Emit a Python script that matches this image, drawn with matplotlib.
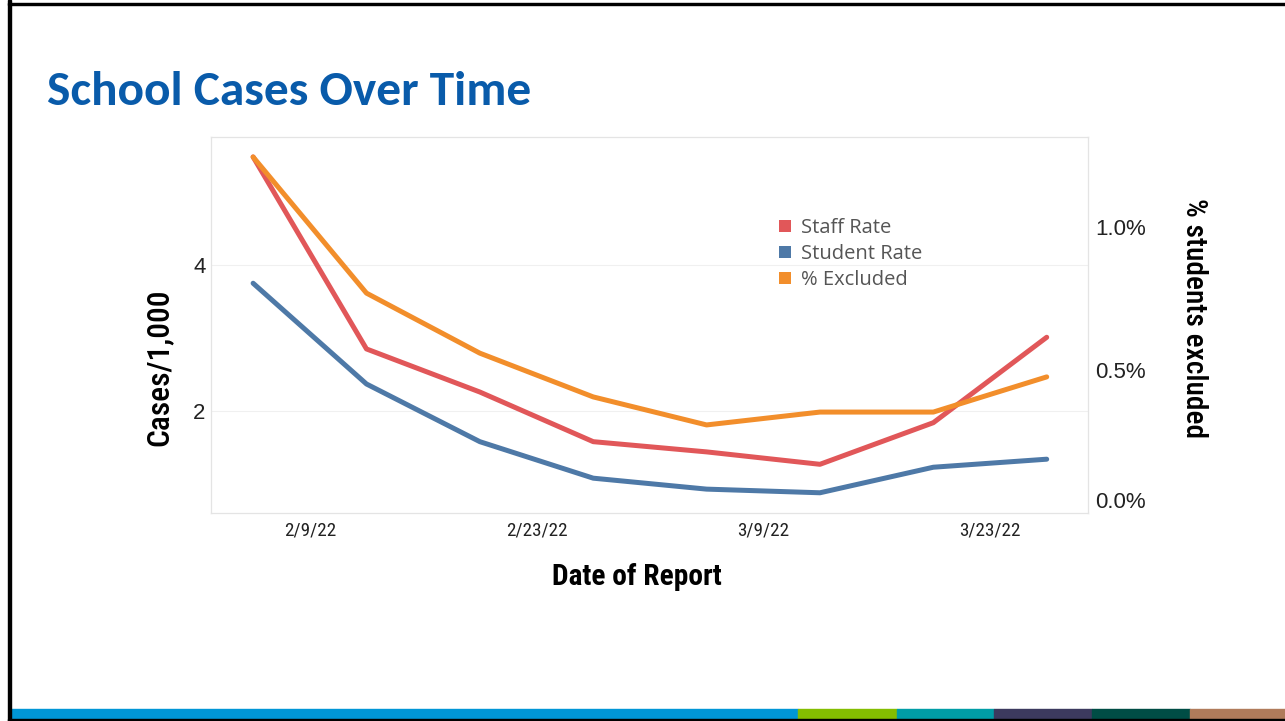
import matplotlib.pyplot as plt
import pandas as pd
from matplotlib import font_manager
from matplotlib.patches import Patch, Rectangle
from matplotlib.ticker import PercentFormatter

# Data
report_dates = pd.to_datetime(['2022-02-05 12:00', '2022-02-12 12:00', '2022-02-19 12:00',
                               '2022-02-26 12:00', '2022-03-05 12:00', '2022-03-12 12:00',
                               '2022-03-19 12:00', '2022-03-26 12:00'])
staff_rate = [5.48, 2.85, 2.26, 1.58, 1.44, 1.27, 1.84, 3.01]
student_rate = [3.75, 2.37, 1.58, 1.08, 0.93, 0.88, 1.23, 1.34]
pct_excluded = [1.245, 0.769, 0.559, 0.406, 0.308, 0.353, 0.353, 0.476]

tick_dates = pd.to_datetime(['2022-02-09', '2022-02-23', '2022-03-09', '2022-03-23'])
tick_labels = ['2/9/22', '2/23/22', '3/9/22', '3/23/22']
left_ticks = [2, 4]
right_ticks = [0.0, 0.5, 1.0]

series_names = ['Staff Rate', 'Student Rate', '% Excluded']
colors = ['#E15759', '#4E79A7', '#F28E2B']

W, H = 1285, 721


def pick(prefs):
    installed = {f.name for f in font_manager.fontManager.ttflist}
    for p in prefs:
        if p in installed:
            return p
    return 'DejaVu Sans'


narrow = pick(['Liberation Sans Narrow', 'Arial Narrow', 'Roboto Condensed', 'Archivo Narrow',
               'PT Sans Narrow', 'Open Sans Condensed'])
title_font = pick(['Carlito', 'Calibri', 'Lato'])
legend_font = pick(['Open Sans', 'Lato'])


def fit(txt, target_px):
    # scale a text so its long side matches the reference length
    fig.canvas.draw()
    bb = txt.get_window_extent()
    txt.set_fontsize(txt.get_fontsize() * target_px / max(bb.width, bb.height))


# %%
fig = plt.figure(figsize=(W / 100, H / 100), dpi=100)
fig.patch.set_facecolor('white')

# Plot area
x0, x1, y0, y1 = 211, 1088, 137, 513
ax = fig.add_axes([x0 / W, 1 - y1 / H, (x1 - x0) / W, (y1 - y0) / H])
ax2 = ax.twinx()

ax.plot(report_dates, staff_rate, color=colors[0], lw=3.6, solid_capstyle='round')
ax.plot(report_dates, student_rate, color=colors[1], lw=3.6, solid_capstyle='round')
ax2.plot(report_dates, pct_excluded, color=colors[2], lw=3.6, solid_capstyle='round')

ax.set_xlim(report_dates[0] - pd.Timedelta(days=2.6), report_dates[-1] + pd.Timedelta(days=2.55))
ax.set_ylim(0.603, 5.753)
ax2.set_ylim(0, 1.315)

ax.set_xticks(tick_dates)
ax.set_xticklabels(tick_labels, family=narrow, fontsize=14, color='#222222')
ax.set_yticks(left_ticks)
ax.set_yticklabels([str(t) for t in left_ticks], family='Liberation Sans', fontsize=16, color='#222222')
ax2.set_yticks(right_ticks)
ax2.yaxis.set_major_formatter(PercentFormatter(xmax=100, decimals=1))
for lab in ax2.get_yticklabels():
    lab.set_family('Liberation Sans')
    lab.set_fontsize(16)
    lab.set_color('#222222')
ax2.get_yticklabels()[0].set_va('bottom')

ax.tick_params(axis='both', length=0)
ax.tick_params(axis='x', pad=6)
ax.tick_params(axis='y', pad=4)
ax2.tick_params(axis='y', length=0, pad=5)

ax.grid(axis='y', color='#F0F0F0', lw=0.8)
ax.grid(axis='x', visible=False)
for a in (ax, ax2):
    for s in a.spines.values():
        s.set_color('#E4E4E4')
        s.set_linewidth(0.8)

# Legend
handles = [Patch(facecolor=c, edgecolor='none', label=n) for c, n in zip(colors, series_names)]
leg = fig.legend(handles=handles, loc='upper left', bbox_to_anchor=(769 / W, 1 - 208 / H),
                 frameon=False, borderpad=0, handlelength=0.6, handleheight=0.6,
                 handletextpad=0.5, labelspacing=0.3,
                 prop={'family': legend_font, 'size': 14.5})
for t in leg.get_texts():
    t.set_color('#555555')

# Axis titles
ylab = fig.text(159 / W, 1 - 367 / H, 'Cases/1,000', rotation=90, ha='center', va='center',
                family=narrow, fontsize=20, weight='medium', color='black')
y2lab = fig.text(1194 / W, 1 - 318 / H, '% students excluded', rotation=270, ha='center', va='center',
                 family=narrow, fontsize=20, weight='medium', color='black')
xlab = fig.text(637 / W, 1 - 577 / H, 'Date of Report', ha='center', va='center',
                family=narrow, fontsize=20, weight='bold', color='black')

# Slide title
title = fig.text(47 / W, 1 - 92 / H, 'School Cases Over Time', ha='left', va='center',
                 family=title_font, weight='bold', fontsize=32, color='#095BAA')

fit(ylab, 157)
fit(y2lab, 239)
fit(xlab, 169)
fit(title, 486)
fit_tick = ax.get_xticklabels()[1]
fig.canvas.draw()
tick_scale = 61.5 / fit_tick.get_window_extent().width
for lab in ax.get_xticklabels():
    lab.set_fontsize(lab.get_fontsize() * tick_scale)

# Slide frame and colour strip
strip = [(10, 798, '#0096D6'), (798, 897, '#84BD00'), (897, 994, '#009DA6'),
         (994, 1092, '#3C3A5E'), (1092, 1190, '#004D45'), (1190, W, '#B07B5B')]
for xa, xb, c in strip:
    fig.patches.append(Rectangle((xa / W, 1 - 719 / H), (xb - xa) / W, 10 / H,
                                 transform=fig.transFigure, color=c, zorder=5))
fig.patches.append(Rectangle((8 / W, 0), 2.5 / W, 1, transform=fig.transFigure, color='black', zorder=6))
fig.patches.append(Rectangle((8 / W, 1 - 5 / H), 1 - 8 / W, 2.5 / H, transform=fig.transFigure,
                             color='black', zorder=6))
fig.patches.append(Rectangle((8 / W, 0), 1 - 8 / W, 2 / H, transform=fig.transFigure,
                             color='black', zorder=6))

fig.savefig('out.png', dpi=100)
